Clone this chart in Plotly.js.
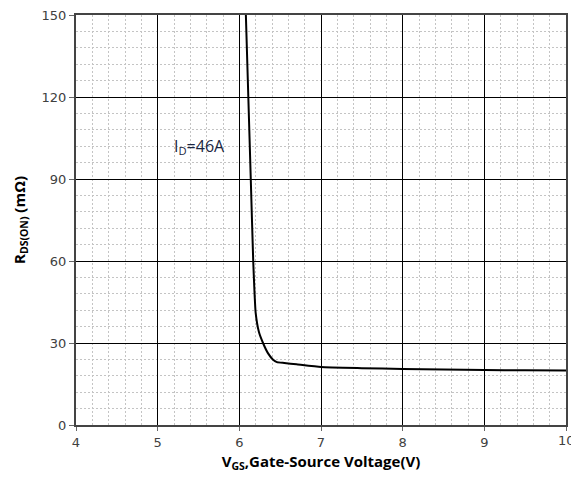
<!DOCTYPE html>
<html>
<head>
<meta charset="utf-8">
<script src="https://cdn.plot.ly/plotly-3.0.1.min.js"></script>
<style>html,body{margin:0;padding:0;background:#fff;}#chart{width:571px;height:483px;}</style>
</head>
<body>
<div id="chart"></div>
<script>
const vgs = [6.08, 6.11, 6.14, 6.17, 6.20, 6.24, 6.29, 6.35, 6.41, 6.46, 6.55, 6.7, 7.0, 7.5, 8.0, 8.5, 9.0, 9.5, 10.0];
const rdson = [150, 120, 90, 60, 41, 34, 30, 26.3, 24, 23, 22.7, 22.2, 21.2, 20.8, 20.5, 20.3, 20.1, 20.0, 19.9];
const xTicks = [4, 5, 6, 7, 8, 9];
const xEdgeTick = 10;
const yTicks = [0, 30, 60, 90, 120, 150];
const labelText = 'I<sub>D</sub>=46A';
const labelPos = [5.18, 102];

const tickFont = {family: 'DejaVu Sans', size: 13, color: '#404040'};
const titleFont = {family: 'Open Sans', size: 15, color: '#000', weight: 'bold'};

Plotly.newPlot('chart', [{
  x: vgs, y: rdson, type: 'scatter', mode: 'lines',
  line: {color: '#000', width: 2, shape: 'spline', smoothing: 0.4},
  hoverinfo: 'skip', showlegend: false
}], {
  width: 571, height: 483,
  margin: {l: 76, r: 5, t: 15, b: 58},
  paper_bgcolor: '#fff', plot_bgcolor: '#fff',
  xaxis: {
    range: [4, 10], tickvals: xTicks.concat([xEdgeTick]), ticktext: xTicks.map(String).concat(['']),
    showgrid: true, gridcolor: '#000', gridwidth: 1,
    minor: {dtick: 0.2, showgrid: true, gridcolor: '#c4c4c4', griddash: '2px,2px', gridwidth: 1},
    showline: true, linecolor: '#444', linewidth: 2, mirror: true,
    ticks: 'outside', ticklen: 4, tickcolor: '#666', tickfont: tickFont,
    zeroline: false,
    title: {text: 'V<sub>GS</sub>,Gate-Source Voltage(V)', font: titleFont, standoff: 8}
  },
  yaxis: {
    range: [0, 150], tickvals: yTicks, ticktext: yTicks.map(String),
    showgrid: true, gridcolor: '#000', gridwidth: 1,
    minor: {dtick: 6, showgrid: true, gridcolor: '#c4c4c4', griddash: '2px,2px', gridwidth: 1},
    showline: true, linecolor: '#444', linewidth: 2, mirror: true,
    ticks: 'outside', ticklen: 5, tickcolor: '#666', tickfont: tickFont,
    zeroline: false,
    title: {text: 'R<sub>DS(ON)</sub> (mΩ)', font: titleFont, standoff: 12}
  },
  annotations: [{
    x: labelPos[0], y: labelPos[1], xref: 'x', yref: 'y', xanchor: 'left', yanchor: 'middle',
    text: labelText, showarrow: false,
    font: {family: 'Open Sans', size: 16, color: '#1a2540'}
  }, {
    x: xEdgeTick, y: 0, xref: 'x', yref: 'paper', xanchor: 'center', yanchor: 'top', yshift: -6,
    text: String(xEdgeTick), showarrow: false, font: tickFont
  }]
}, {displayModeBar: false, staticPlot: true});
</script>
</body>
</html>
